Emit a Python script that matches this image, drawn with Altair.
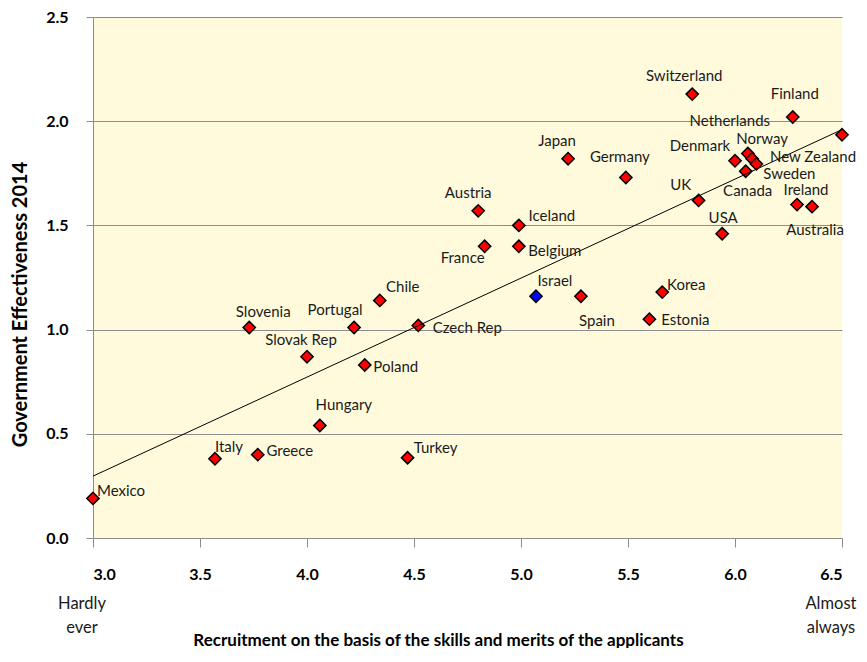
import altair as alt
import pandas as pd
import numpy as np

countries = ["Mexico", "Italy", "Greece", "Slovenia", "Slovak Rep", "Portugal", "Chile",
             "Poland", "Hungary", "Czech Rep", "Turkey", "Austria", "France", "Iceland",
             "Belgium", "Israel", "Spain", "Japan", "Germany", "Korea", "Estonia",
             "Switzerland", "Finland", "Netherlands", "Denmark", "Norway", "New Zealand",
             "Sweden", "Canada", "UK", "USA", "Ireland", "Australia"]
recruitment = [3.00, 3.57, 3.77, 3.73, 4.00, 4.22, 4.34,
               4.27, 4.06, 4.52, 4.47, 4.80, 4.83, 4.99,
               4.99, 5.07, 5.28, 5.22, 5.49, 5.66, 5.60,
               5.80, 6.27, 6.06, 6.00, 6.08, 6.50,
               6.10, 6.05, 5.83, 5.94, 6.29, 6.36]
effectiveness = [0.19, 0.38, 0.40, 1.01, 0.87, 1.01, 1.14,
                 0.83, 0.54, 1.02, 0.385, 1.57, 1.40, 1.50,
                 1.40, 1.16, 1.16, 1.82, 1.73, 1.18, 1.05,
                 2.13, 2.02, 1.845, 1.81, 1.82, 1.935,
                 1.795, 1.76, 1.62, 1.46, 1.60, 1.59]
highlighted = ["Israel"]

y_ticks = [0.0, 0.5, 1.0, 1.5, 2.0, 2.5]
x_ticks = [3.0, 3.5, 4.0, 4.5, 5.0, 5.5, 6.0, 6.5]
scale_ends = [3.0, 6.5]
scale_end_text = ["Hardly\never", "Almost\nalways"]

# label centre offsets from the marker, in pixels (layout only)
label_offsets = {
    "Mexico": (28, -7), "Italy": (14, -12), "Greece": (32, -4), "Slovenia": (14, -16),
    "Slovak Rep": (-6, -17), "Portugal": (-19, -18), "Chile": (23, -13), "Poland": (31, 2),
    "Hungary": (24, -20), "Czech Rep": (49, 3), "Turkey": (28, -10), "Austria": (-10, -18),
    "France": (-22, 12), "Iceland": (33, -9), "Belgium": (36, 5), "Israel": (19, -15),
    "Spain": (16, 25), "Japan": (-11, -18), "Germany": (-6, -20), "Korea": (24, -7),
    "Estonia": (36, 1), "Switzerland": (-8, -18), "Finland": (2, -23),
    "Netherlands": (-18, -33), "Denmark": (-35, -15), "Norway": (10, -20),
    "New Zealand": (-29, 22), "Sweden": (33, 10), "Canada": (2, 20), "UK": (-18, -15),
    "USA": (1, -16), "Ireland": (9, -15), "Australia": (3, 23),
}

W, H = 749, 521
XMIN, XMAX, YMIN, YMAX = 3.0, 6.5, 0.0, 2.5
PX_X = W / (XMAX - XMIN)
PX_Y = H / (YMAX - YMIN)

df = pd.DataFrame({"country": countries, "x": recruitment, "y": effectiveness})
df["group"] = np.where(df["country"].isin(highlighted), "hl", "other")
df["lx"] = df["x"] + df["country"].map(lambda c: label_offsets[c][0]) / PX_X
df["ly"] = df["y"] - df["country"].map(lambda c: label_offsets[c][1]) / PX_Y

FONT = "Lato"
GRID = "#8c8c8c"

xscale = alt.Scale(domain=[XMIN, XMAX], nice=False, zero=False)
yscale = alt.Scale(domain=[YMIN, YMAX], nice=False, zero=False)

base = alt.Chart(df)

x_enc = alt.X("x:Q", scale=xscale,
              title="Recruitment on the basis of the skills and merits of the applicants",
              axis=alt.Axis(values=x_ticks, format=".1f", grid=False, domainColor=GRID,
                            tickColor=GRID, tickSize=9, labelPadding=19,
                            labelFont=FONT, labelFontSize=16, labelFontWeight="bold",
                            labelColor="#000", titleFont=FONT, titleFontSize=17,
                            titleFontWeight="bold", titleColor="#000",
                            titleX=345, titleY=107, titleBaseline="alphabetic",
                            titleAlign="center"))
y_enc = alt.Y("y:Q", scale=yscale, title="Government Effectiveness 2014",
              axis=alt.Axis(values=y_ticks, format=".1f", grid=True, gridColor=GRID,
                            gridWidth=1, domainColor=GRID, tickColor=GRID, tickSize=7,
                            labelPadding=18, labelFont=FONT, labelFontSize=16,
                            labelFontWeight="bold", labelColor="#000", titleFont=FONT,
                            titleFontSize=20, titleFontWeight="bold", titleColor="#000",
                            titleX=-73, titleY=287, titleBaseline="middle",
                            titleAlign="center", titleAngle=270))

points = base.mark_point(shape="diamond", filled=True, size=150, stroke="black",
                         strokeWidth=1.5, opacity=1).encode(
    x=x_enc, y=y_enc,
    fill=alt.Fill("group:N", scale=alt.Scale(domain=["other", "hl"],
                                             range=["#FF0000", "#0000FF"]), legend=None),
)

trend = base.transform_regression("x", "y", extent=[XMIN, XMAX]).mark_line(
    color="black", strokeWidth=1).encode(x=alt.X("x:Q", scale=xscale),
                                          y=alt.Y("y:Q", scale=yscale))

labels = base.mark_text(font=FONT, fontSize=15, color="#1a1a1a",
                        align="center", baseline="middle").encode(
    x=alt.X("lx:Q", scale=xscale), y=alt.Y("ly:Q", scale=yscale), text="country:N")

ends_df = pd.DataFrame({"x": scale_ends, "t": scale_end_text})
ends = alt.Chart(ends_df).mark_text(font=FONT, fontSize=16.5, color="#1a1a1a",
                                    align="center", baseline="top", lineBreak="\n",
                                    lineHeight=24, dx=-11).encode(
    x=alt.X("x:Q", scale=xscale), y=alt.value(H + 58), text="t:N")

chart = alt.layer(points, trend, labels, ends).properties(
    width=W, height=H,
    autosize=alt.AutoSizeParams(type="none"),
    padding={"left": 85, "top": 9, "right": 17, "bottom": 110},
    background="white",
).configure_view(fill="#FFFADC", strokeWidth=0)

chart.save("out.html", embed_options={"renderer": "svg", "actions": False})
